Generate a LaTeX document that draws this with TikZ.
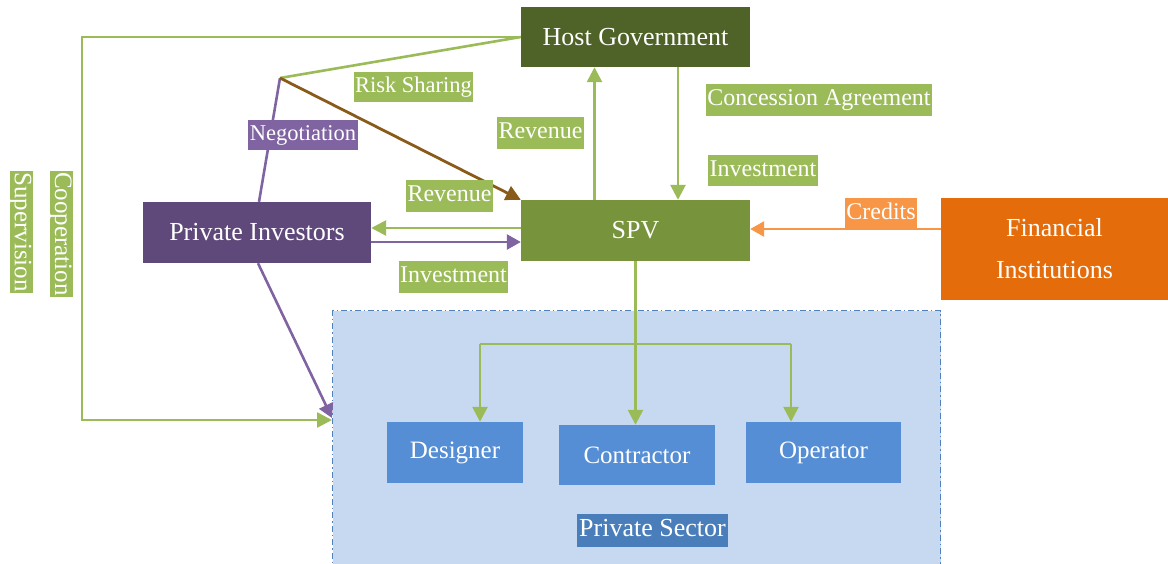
\documentclass[tikz,border=0pt]{standalone}
\usepackage{fontspec}
\setmainfont{Liberation Serif}
\usetikzlibrary{arrows.meta}
\definecolor{hostg}{HTML}{4F6228}
\definecolor{spvg}{HTML}{77933C}
\definecolor{lgreen}{HTML}{9BBB59}
\definecolor{pinv}{HTML}{5F497A}
\definecolor{lpurple}{HTML}{8064A2}
\definecolor{finor}{HTML}{E46C0A}
\definecolor{lorange}{HTML}{F79646}
\definecolor{contfill}{HTML}{C6D9F1}
\definecolor{contline}{HTML}{4F81BD}
\definecolor{bluebox}{HTML}{558ED5}
\definecolor{pslab}{HTML}{4A7EBB}
\definecolor{brownar}{HTML}{8A5A19}
\tikzset{
  mainbox/.style={draw=none, text=white, font=\fontsize{26}{30}\selectfont, inner sep=0pt},
  lab/.style={text=white, font=\fontsize{24}{24}\selectfont, inner xsep=1.5pt, inner ysep=4.5pt, text height=17pt, text depth=5.5pt},
  smalllab/.style={lab, font=\fontsize{22.5}{24}\selectfont, text height=16pt, text depth=5pt},
  vlab/.style={lab, fill=lgreen, rotate=-90, font=\fontsize{25}{25}\selectfont, inner xsep=1pt, inner ysep=0.5pt, text height=17pt, text depth=5pt},
  gline/.style={draw=lgreen, line width=2.6pt},
  garrow/.style={gline, -{Triangle[length=15pt,width=15pt]}},
  pline/.style={draw=lpurple, line width=2.6pt},
  parrow/.style={pline, -{Triangle[length=14pt,width=15pt]}},
}
\begin{document}
\begin{tikzpicture}[x=1pt,y=-1pt]
\useasboundingbox (0,0) rectangle (1168,563);
% container
\node[fill=contfill, draw=contline, line width=1.2pt, dash pattern=on 6pt off 3pt on 1.5pt off 3pt, minimum width=608pt, minimum height=270pt, anchor=north west, inner sep=0pt] (ps) at (332,310) {};
\node[lab, fill=pslab, font=\fontsize{26}{26}\selectfont, text height=18pt, text depth=6pt, inner ysep=4.5pt, minimum width=151pt] (pslabel) at (652.5,530) {Private Sector};
% main boxes
\node[mainbox, fill=hostg, minimum width=229pt, minimum height=60pt] (hg) at (635.5,37) {Host Government};
\node[mainbox, fill=spvg, minimum width=229pt, minimum height=61pt] (spv) at (635.5,230.5) {SPV};
\node[mainbox, fill=pinv, minimum width=228pt, minimum height=61pt] (pi) at (257,232.5) {Private Investors};
\node[mainbox, fill=finor, minimum width=227pt, minimum height=102pt, align=center, font=\fontsize{26}{42}\selectfont] (fi) at (1054.5,249) {Financial\\Institutions};
\node[mainbox, fill=bluebox, minimum width=136pt, minimum height=61pt, font=\fontsize{25}{30}\selectfont] (des) at (455,452.5) {Designer};
\node[mainbox, fill=bluebox, minimum width=156pt, minimum height=60pt, font=\fontsize{25}{30}\selectfont] (con) at (637,455) {Contractor};
\node[mainbox, fill=bluebox, minimum width=155pt, minimum height=61pt, font=\fontsize{25}{30}\selectfont] (op) at (823.5,452.5) {Operator};
% helper coordinates
\coordinate (v) at (280,78);
\coordinate (lc) at (82,420);
\coordinate (ga) at (0,228);
\coordinate (pa) at (0,242);
\coordinate (oa) at (0,229);
\coordinate (up) at (594.5,0);
\coordinate (dn) at (678,0);
\coordinate (br) at (0,344);
\coordinate (dl) at (480,0);
\coordinate (dr) at (791,0);
\coordinate (pt) at (0,418);
% connectors
\draw[gline] (hg.west) -- (v);
\draw[garrow] (hg.west) -| (lc) -- (ps.west |- lc);
\draw[pline] (v) -- ([xshift=2pt]pi.north);
\draw[draw=brownar, line width=2.8pt, -{Triangle[length=15pt,width=15pt]}] (v) -- (spv.north west);
\draw[garrow] (spv.north -| up) -- (hg.south -| up);
\draw[garrow] (hg.south -| dn) -- (spv.north -| dn);
\draw[garrow] (spv.west |- ga) -- (pi.east |- ga);
\draw[parrow] (pi.east |- pa) -- (spv.west |- pa);
\draw[draw=lorange, line width=2.6pt, -{Triangle[length=14pt,width=15pt]}] (fi.west |- oa) -- (spv.east |- oa);
\draw[parrow] ([xshift=1pt]pi.south) -- (ps.west |- pt);
\draw[garrow] (spv.south) -- (spv.south |- con.north);
\draw[gline] (dl |- br) -- (dr |- br);
\draw[garrow] (dl |- br) -- (dl |- des.north);
\draw[garrow] (dr |- br) -- (dr |- op.north);
% labels
\node[smalllab, fill=lgreen] (rs) at (413.5,86.5) {Risk Sharing};
\node[smalllab, fill=lpurple] (neg) at (303,135) {Negotiation};
\node[lab, fill=lgreen] (rev1) at (540.5,133) {Revenue};
\node[lab, fill=lgreen] (ca) at (819,100) {Concession Agreement};
\node[lab, fill=lgreen] (inv1) at (763,170.5) {Investment};
\node[lab, fill=lgreen] (rev2) at (449.5,196) {Revenue};
\node[lab, fill=lgreen] (inv2) at (453.5,277) {Investment};
\node[lab, fill=lorange] (cr) at (881,213.5) {Credits};
\node[vlab] (coop) at (61,234) {Cooperation};
\node[vlab] (sup) at (21,232) {Supervision};
\end{tikzpicture}
\end{document}
